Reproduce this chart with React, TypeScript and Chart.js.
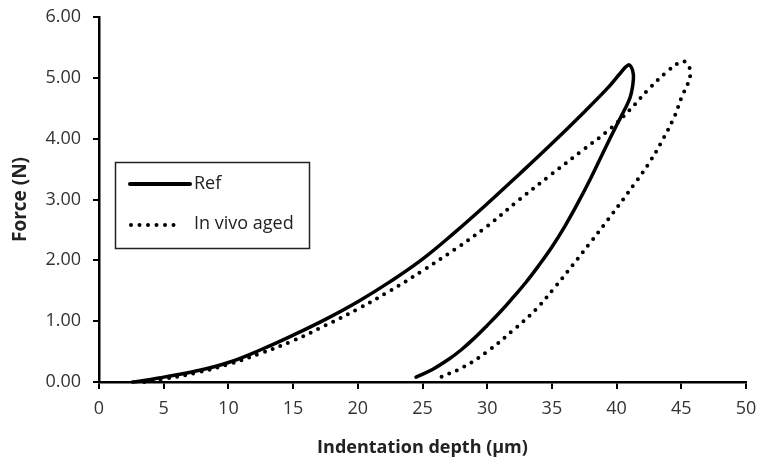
import React, { useEffect, useRef } from "react";
import { Chart, registerables } from "chart.js";

Chart.register(...registerables);

// Ref (solid) loop: loading then unloading
const refDepth = [2.6, 4, 5, 7.5, 10, 12.5, 15, 17.5, 20, 22.5, 25, 27.5, 30, 32.5, 35, 37.5, 39.3, 40.3, 40.9, 41.15, 41.3, 41.25, 41.05, 40.6, 40.0, 39.0, 38.0, 37.0, 36.0, 35.0, 34.0, 33.0, 32.0, 31.0, 30.0, 29.0, 28.0, 27.0, 25.8, 24.5];
const refForce = [0, 0.04, 0.08, 0.18, 0.32, 0.53, 0.77, 1.03, 1.32, 1.65, 2.02, 2.46, 2.93, 3.42, 3.92, 4.44, 4.83, 5.08, 5.21, 5.17, 5.05, 4.88, 4.68, 4.47, 4.22, 3.79, 3.35, 2.94, 2.56, 2.22, 1.92, 1.64, 1.39, 1.15, 0.93, 0.72, 0.53, 0.37, 0.21, 0.08];

// In vivo aged (dotted) loop
const agedDepth = [3.5, 5, 7.5, 10, 12.5, 15, 17.5, 20, 22.5, 25, 27.5, 30, 32.5, 35, 37.5, 39.5, 41, 42.5, 44, 45.1, 45.5, 45.7, 45.5, 45.1, 44.4, 43.4, 42.6, 41.6, 39.3, 38.0, 36.6, 35.2, 33.8, 32.0, 30.0, 28.2, 26.4];
const agedForce = [0, 0.05, 0.15, 0.29, 0.47, 0.68, 0.93, 1.2, 1.5, 1.83, 2.18, 2.56, 3.0, 3.42, 3.83, 4.16, 4.47, 4.82, 5.12, 5.27, 5.22, 5.08, 4.9, 4.72, 4.33, 3.92, 3.63, 3.32, 2.66, 2.3, 1.92, 1.55, 1.2, 0.85, 0.5, 0.25, 0.08];

const seriesNames = ["Ref", "In vivo aged"];
const xTitle = "Indentation depth (\u00b5m)";
const yTitle = "Force (N)";

const FONT = "'Open Sans', 'Noto Sans', sans-serif";

const legendPlugin = {
  id: "boxLegend",
  afterDraw(chart: any) {
    const ctx = chart.ctx;
    ctx.save();
    ctx.strokeStyle = "#222";
    ctx.lineWidth = 1.5;
    ctx.strokeRect(115.5, 162.5, 194, 86);
    // solid sample
    ctx.beginPath();
    ctx.lineWidth = 4;
    ctx.lineCap = "round";
    ctx.strokeStyle = "#000";
    ctx.moveTo(130, 184);
    ctx.lineTo(190, 184);
    ctx.stroke();
    // dotted sample
    ctx.beginPath();
    ctx.setLineDash([0, 8.5]);
    ctx.lineWidth = 4;
    ctx.moveTo(131, 225);
    ctx.lineTo(182, 225);
    ctx.stroke();
    ctx.setLineDash([]);
    ctx.fillStyle = "#222";
    ctx.font = `18px ${FONT}`;
    ctx.textBaseline = "middle";
    ctx.textAlign = "left";
    ctx.fillText(seriesNames[0], 194, 184);
    ctx.fillText(seriesNames[1], 194, 224);
    ctx.restore();
  },
};

export default function App() {
  const ref = useRef<HTMLCanvasElement | null>(null);
  useEffect(() => {
    if (!ref.current) return;
    const chart = new Chart(ref.current, {
      type: "scatter",
      data: {
        datasets: [
          {
            label: seriesNames[0],
            data: refDepth.map((x, i) => ({ x, y: refForce[i] })),
            showLine: true,
            borderColor: "#000",
            backgroundColor: "#000",
            borderWidth: 3.5,
            pointRadius: 0,
            tension: 0.4,
            borderCapStyle: "round",
            borderJoinStyle: "round",
            clip: false as any,
          },
          {
            label: seriesNames[1],
            data: agedDepth.map((x, i) => ({ x, y: agedForce[i] })),
            showLine: true,
            borderColor: "#000",
            backgroundColor: "#000",
            borderWidth: 4,
            borderDash: [0, 8.3],
            borderCapStyle: "round",
            pointRadius: 0,
            tension: 0.4,
            clip: false as any,
          },
        ],
      },
      options: {
        responsive: false,
        animation: false,
        layout: { padding: { left: 0, top: 17, right: 15, bottom: 0 } },
        plugins: { legend: { display: false }, tooltip: { enabled: false } },
        scales: {
          x: {
            type: "linear",
            min: 0,
            max: 50,
            ticks: {
              stepSize: 5,
              color: "#333",
              font: { family: FONT, size: 18 },
              padding: 9,
              maxRotation: 0,
            },
            grid: { drawOnChartArea: false, drawTicks: true, tickLength: 7, color: "#000", lineWidth: 2 },
            border: { display: true, color: "#000", width: 2.5 },
            title: {
              display: true,
              text: xTitle,
              color: "#222",
              font: { family: FONT, size: 18, weight: "bold" },
              padding: { top: 0, bottom: 3 },
            },
            afterFit(scale: any) {
              scale.height = 80;
              scale.paddingLeft = 0;
              scale.paddingRight = 0;
            },
          },
          y: {
            type: "linear",
            min: 0,
            max: 6,
            ticks: {
              stepSize: 1,
              color: "#333",
              font: { family: FONT, size: 18 },
              padding: 12,
              callback: (v: any) => Number(v).toFixed(2),
            },
            grid: { drawOnChartArea: false, drawTicks: true, tickLength: 6, color: "#000", lineWidth: 2 },
            border: { display: true, color: "#000", width: 2.5 },
            title: {
              display: true,
              text: yTitle,
              color: "#222",
              font: { family: FONT, size: 19, weight: "bold" },
              padding: { top: 9, bottom: 0 },
            },
            afterFit(scale: any) {
              scale.width = 99;
              scale.paddingTop = 0;
              scale.paddingBottom = 0;
            },
          },
        },
      },
      plugins: [legendPlugin],
    });
    return () => chart.destroy();
  }, []);
  return (
    <div style={{ position: "fixed", left: 0, top: 0, width: 761, height: 462, background: "#fff" }}>
      <canvas ref={ref} width={761} height={462} style={{ width: 761, height: 462 }} />
    </div>
  );
}
